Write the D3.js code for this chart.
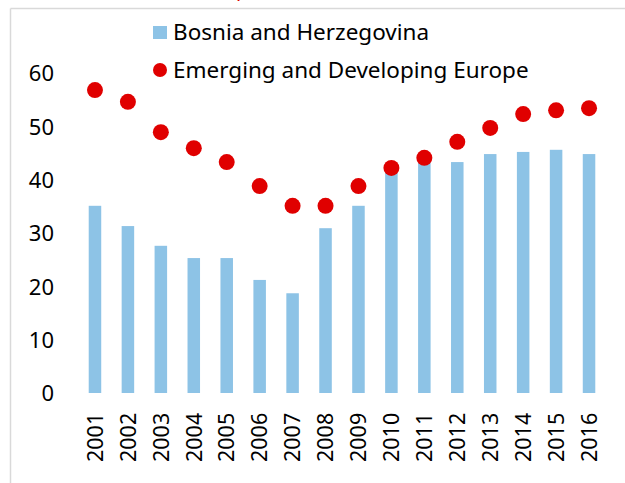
<!DOCTYPE html>
<html>
<head>
<meta charset="utf-8">
<script src="https://cdn.jsdelivr.net/npm/d3@7"></script>
<style>
  html, body { margin: 0; padding: 0; background: #fff; }
  svg { display: block; }
  text { font-family: "Noto Sans", "Open Sans", sans-serif; fill: #000; }
</style>
</head>
<body>
<svg id="chart" width="625" height="483"></svg>
<script>
const years = ["2001","2002","2003","2004","2005","2006","2007","2008","2009","2010","2011","2012","2013","2014","2015","2016"];
const bosnia = [35.1, 31.3, 27.6, 25.3, 25.3, 21.2, 18.7, 30.9, 35.1, 41.9, 43.6, 43.3, 44.8, 45.2, 45.6, 44.8];
const emergingEurope = [56.8, 54.6, 48.9, 45.9, 43.3, 38.8, 35.1, 35.1, 38.8, 42.2, 44.1, 47.1, 49.7, 52.3, 53.0, 53.4];
const yTicks = [0, 10, 20, 30, 40, 50, 60];
const legendLabels = ["Bosnia and Herzegovina", "Emerging and Developing Europe"];

const svg = d3.select("#chart");

// frame
svg.append("line").attr("x1", 10.5).attr("x2", 625).attr("y1", 8.5).attr("y2", 8.5)
  .attr("stroke", "#d9d9d9").attr("stroke-width", 1.5);
svg.append("line").attr("x1", 10.5).attr("x2", 10.5).attr("y1", 8.5).attr("y2", 483)
  .attr("stroke", "#d9d9d9").attr("stroke-width", 1.5);

// clipped red title fragment (cut off at the top edge, as in the reference)
svg.append("text").attr("x", 236).attr("y", -4).attr("font-size", 20)
  .style("fill", "#e00000").text("p");

const x = d3.scaleBand().domain(years).range([78.5, 605.5]).paddingInner(0.62).paddingOuter(0.31);
const y = d3.scaleLinear().domain([0, 60]).range([393, 73]);

// y axis labels
const yAxis = d3.axisLeft(y).tickValues(yTicks).tickSize(0).tickPadding(0);
const gy = svg.append("g").attr("transform", "translate(54,0)").call(yAxis);
gy.select(".domain").remove();
gy.selectAll("text").attr("font-size", 22).attr("dy", "0.35em")
  .style("font-family", "'Noto Sans', sans-serif").attr("fill", "#000");

// bars
svg.append("g").selectAll("rect").data(years).join("rect")
  .attr("x", d => x(d))
  .attr("width", x.bandwidth())
  .attr("y", (d, i) => y(bosnia[i]))
  .attr("height", (d, i) => y(0) - y(bosnia[i]))
  .attr("fill", "#8dc3e6");

// dots
svg.append("g").selectAll("circle").data(years).join("circle")
  .attr("cx", d => x(d) + x.bandwidth() / 2)
  .attr("cy", (d, i) => y(emergingEurope[i]))
  .attr("r", 8)
  .attr("fill", "#e00000");

// x axis labels
const xAxis = d3.axisBottom(x).tickSize(0).tickPadding(0);
const gx = svg.append("g").attr("transform", "translate(0,0)").call(xAxis);
gx.select(".domain").remove();
gx.selectAll("text")
  .attr("font-size", 21.5)
  .style("font-family", "'Noto Sans', sans-serif")
  .attr("fill", "#000")
  .attr("text-anchor", "start")
  .attr("transform", "translate(0,462) rotate(-90)")
  .attr("x", 0).attr("y", 0).attr("dy", "0.36em");

// legend
const lg = svg.append("g");
lg.append("rect").attr("x", 153).attr("y", 26).attr("width", 14).attr("height", 13).attr("fill", "#8dc3e6");
lg.append("circle").attr("cx", 160).attr("cy", 70).attr("r", 7).attr("fill", "#e00000");
lg.append("text").attr("x", 173).attr("y", 40).attr("font-size", 22.5).text(legendLabels[0]);
lg.append("text").attr("x", 173).attr("y", 78).attr("font-size", 22.5).text(legendLabels[1]);
</script>
</body>
</html>
